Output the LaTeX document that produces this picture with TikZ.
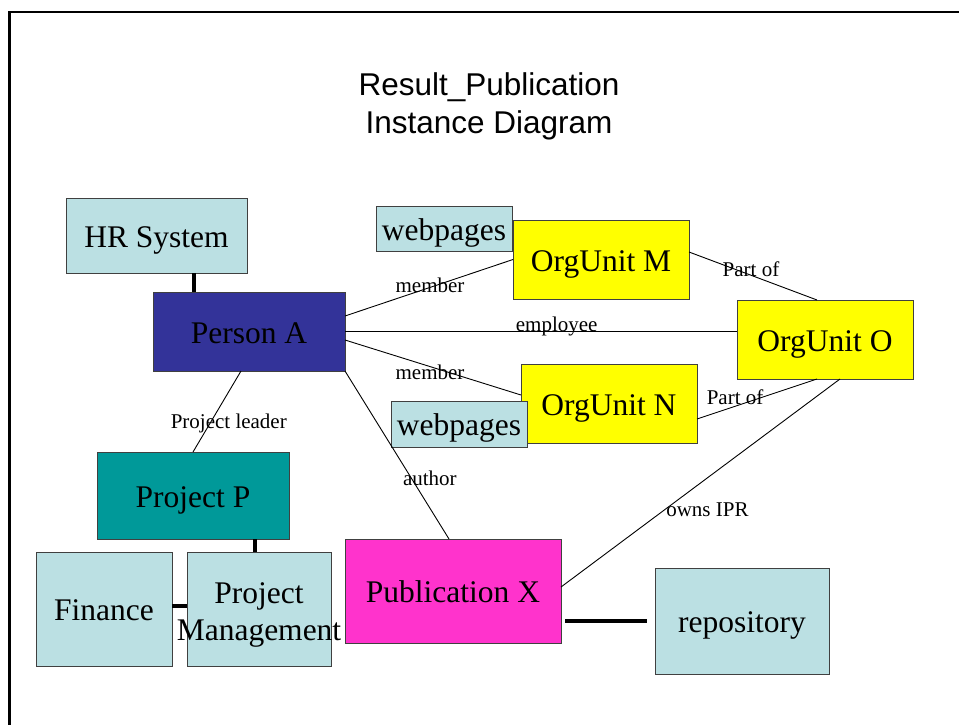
\documentclass[tikz,border=0pt]{standalone}
\usepackage{xcolor}
\usepackage{fontspec}
\setmainfont{Liberation Serif}
\newfontfamily\titlefont{Liberation Sans}
\usepackage{tikz}
\usetikzlibrary{positioning}

\definecolor{paleblue}{RGB}{187,224,227}
\definecolor{personblue}{RGB}{51,51,153}
\definecolor{projteal}{RGB}{0,153,153}
\definecolor{pubpink}{RGB}{255,51,204}
\definecolor{orgyellow}{RGB}{255,255,0}

\tikzset{
  box/.style={draw=black!75, line width=0.8pt, text centered, inner sep=0pt, outer sep=0pt,
    text height=23pt, text depth=0pt, font=\fontsize{31.5}{37}\selectfont},
  rel/.style={font=\fontsize{21}{24}\selectfont, anchor=base, inner sep=0pt},
  link/.style={line width=0.9pt},
  tie/.style={line width=4pt}
}

\begin{document}
\begin{tikzpicture}[x=1pt, y=-1pt]
\useasboundingbox (0,0) rectangle (959,724);

% frame %
\draw[line width=2.5pt] (9.5,12) rectangle (1000,800);

% title %
\node[font=\titlefont\fontsize{31.5}{38}\selectfont, align=center] (title) at (489,106) {Result\_Publication\\Instance Diagram};

% nodes %
\node[box, fill=personblue, minimum width=192pt, minimum height=79pt] (pa) at (249,331.5) {Person A};
\node[box, fill=paleblue, minimum width=181pt, minimum height=75pt, above = 19pt of pa, xshift=-92.5pt] (hr) {HR System};
\node[box, fill=projteal, minimum width=192pt, minimum height=87pt, below = 81pt of pa, xshift=-56pt] (pp) {Project P};
\node[box, fill=paleblue, minimum width=136pt, minimum height=114pt, below = 13pt of pp, xshift=-89pt] (fin) {Finance};
\node[box, fill=paleblue, minimum width=144pt, minimum height=114pt, right = 15pt of fin, align=center, text height=62pt] (pm) {Project\\\makebox[0pt]{Management}};
\node[box, fill=pubpink, minimum width=216pt, minimum height=104pt] (pub) at (453,591) {Publication X};
\node[box, fill=paleblue, minimum width=174pt, minimum height=106pt, right = 94pt of pub, yshift=-30pt] (repo) {repository};
\node[box, fill=orgyellow, minimum width=176pt, minimum height=79pt] (orgO) at (825,339.5) {OrgUnit O};
\node[box, fill=orgyellow, minimum width=176pt, minimum height=79pt] (orgM) at (601,259.5) {OrgUnit M};
\node[box, fill=orgyellow, minimum width=176pt, minimum height=79pt] (orgN) at (609,403.5) {OrgUnit N};
\node[box, fill=paleblue, minimum width=136pt, minimum height=45pt, left = 1pt of orgM, yshift=31pt] (webM) {webpages};
\node[box, fill=paleblue, minimum width=136pt, minimum height=46pt, left = -6pt of orgN, yshift=-20.5pt] (webN) {webpages};

% edges %

%ties%
\coordinate (hrtie) at ([xshift=41pt]pa.north west);
\draw[tie] (hrtie) -- (hrtie |- hr.south);
\coordinate (pmtie) at ([xshift=-4pt]pm.north);
\draw[tie] (pmtie) -- (pmtie |- pp.south);
\draw[tie] ([yshift=3pt]fin.east) -- ([yshift=3pt]pm.west);
\coordinate (pubtie) at ([xshift=4pt]pub.east);
\draw[tie] (pubtie |- repo.west) -- ([xshift=-8pt]repo.west);

%Person A%
\draw[link] ([yshift=15.5pt]pa.east) -- node[rel, pos=0.506, yshift=-5.3pt] (lmemM) {member} (orgM.west);
\draw[link] (pa.east) -- node[rel, pos=0.54] (lemp) {employee} (pa.east -| orgO.west);
\draw[link] ([yshift=-8.5pt]pa.east) -- node[rel, pos=0.483, yshift=-13.4pt] (lmemN) {member} ([yshift=8.5pt]orgN.west);
\draw[link] (pa.south east) -- node[rel, pos=0.643, xshift=18pt, yshift=-6pt] (lauth) {author} ([xshift=-4pt]pub.north);
\draw[link] ([xshift=-8pt]pa.south) -- node[rel, pos=0.64, xshift=18.5pt, yshift=-6pt] (llead) {Project leader} (pp.north);

%OrgUnits%
\draw[link] ([yshift=7.5pt]orgM.east) -- node[rel, pos=0.484, yshift=-1pt] (lpartM) {Part of} ([xshift=-8pt]orgO.north);
\draw[link] ([yshift=-15.5pt]orgN.east) -- node[rel, pos=0.317, yshift=1.6pt] (lpartN) {Part of} ([xshift=-8pt]orgO.south);

%Publication X%
\draw[link] ([yshift=4pt]pub.east) -- node[rel, pos=0.367, xshift=44pt, yshift=-6pt] (lipr) {owns IPR} ([xshift=15pt]orgO.south);

\end{tikzpicture}
\end{document}
